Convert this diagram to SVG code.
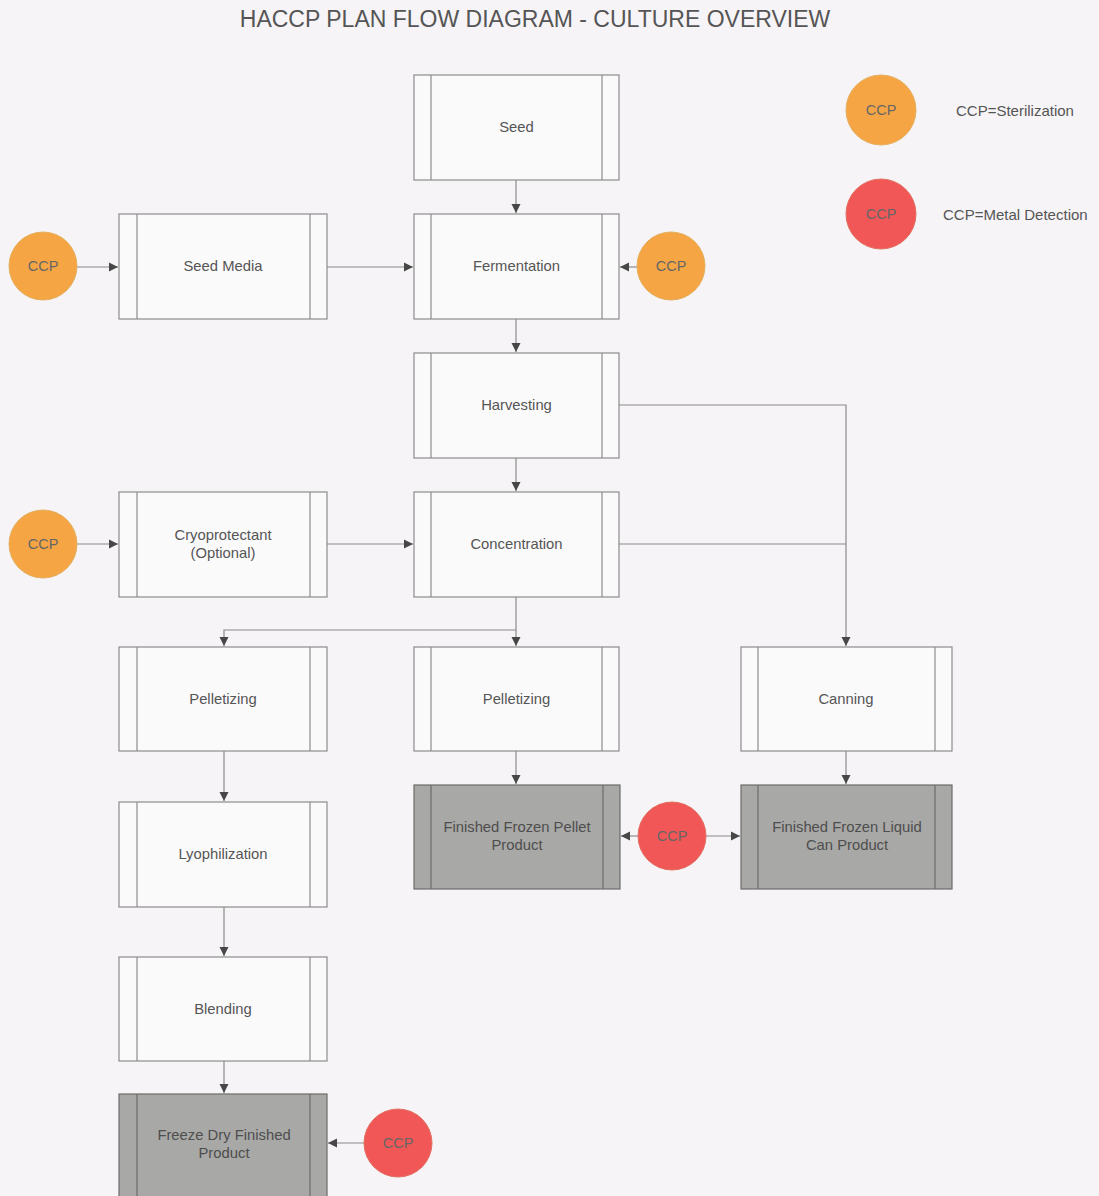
<svg xmlns="http://www.w3.org/2000/svg" width="1099" height="1196" viewBox="0 0 1099 1196">
<style>
.bg{fill:#f6f4f6}
.box rect.o{fill:#fbfafb;stroke:#8c8c8c;stroke-width:1.2}
.box line{stroke:#8c8c8c;stroke-width:1.2}
.fin rect.o{fill:#a8a8a6;stroke:#6c6c6c;stroke-width:1.2}
.fin line{stroke:#6c6c6c;stroke-width:1.2}
.t{font-family:"Liberation Sans",Arial,sans-serif;font-size:14.8px;fill:#555;text-anchor:middle}
.ft{font-family:"Liberation Sans",Arial,sans-serif;font-size:14.8px;fill:#4e4e4e;text-anchor:middle}
.or{fill:#f5a544;stroke:#e3b060;stroke-width:1}
.rd{fill:#f25757;stroke:#e07060;stroke-width:1}
.ct{font-family:"Liberation Sans",Arial,sans-serif;font-size:14.5px;fill:#666;text-anchor:middle}
.lg{font-family:"Liberation Sans",Arial,sans-serif;font-size:15px;fill:#555}
.c{stroke:#8a8a8a;stroke-width:1.2;fill:none}
</style>
<defs>
<marker id="ah" markerWidth="10" markerHeight="10" refX="9" refY="5" orient="auto" markerUnits="userSpaceOnUse">
<path d="M0,0.5 L9,5 L0,9.5 Z" fill="#474747"/>
</marker>
</defs>
<rect class="bg" x="0" y="0" width="1099" height="1196"/>
<text x="535" y="27" font-family="Liberation Sans, Arial, sans-serif" font-size="23" fill="#555" text-anchor="middle">HACCP PLAN FLOW DIAGRAM - CULTURE OVERVIEW</text>

<g id="connectors">
<path class="c" d="M516,180 V213" marker-end="url(#ah)"/>
<path class="c" d="M77,267 H118" marker-end="url(#ah)"/>
<path class="c" d="M327,267 H413" marker-end="url(#ah)"/>
<path class="c" d="M637,267 H620" marker-end="url(#ah)"/>
<path class="c" d="M516,319 V352" marker-end="url(#ah)"/>
<path class="c" d="M619,405 H846 V646" marker-end="url(#ah)"/>
<path class="c" d="M516,458 V491" marker-end="url(#ah)"/>
<path class="c" d="M77,544 H118" marker-end="url(#ah)"/>
<path class="c" d="M327,544 H413" marker-end="url(#ah)"/>
<path class="c" d="M619,544 H846"/>
<path class="c" d="M516,597 V646" marker-end="url(#ah)"/>
<path class="c" d="M516,630 H224 V646" marker-end="url(#ah)"/>
<path class="c" d="M224,751 V801" marker-end="url(#ah)"/>
<path class="c" d="M224,907 V956" marker-end="url(#ah)"/>
<path class="c" d="M224,1061 V1093" marker-end="url(#ah)"/>
<path class="c" d="M364,1143 H328" marker-end="url(#ah)"/>
<path class="c" d="M516,751 V784" marker-end="url(#ah)"/>
<path class="c" d="M846,751 V784" marker-end="url(#ah)"/>
<path class="c" d="M638,836 H621" marker-end="url(#ah)"/>
<path class="c" d="M706,836 H740" marker-end="url(#ah)"/>
</g>

<g id="seed" class="box"><rect class="o" x="414" y="75" width="205" height="105"/><line x1="431" y1="75" x2="431" y2="180"/><line x1="602" y1="75" x2="602" y2="180"/><text class="t" x="516.5" y="132">Seed</text></g>
<g id="seed-media" class="box"><rect class="o" x="119" y="214" width="208" height="105"/><line x1="137" y1="214" x2="137" y2="319"/><line x1="310" y1="214" x2="310" y2="319"/><text class="t" x="223" y="271">Seed Media</text></g>
<g id="fermentation" class="box"><rect class="o" x="414" y="214" width="205" height="105"/><line x1="431" y1="214" x2="431" y2="319"/><line x1="602" y1="214" x2="602" y2="319"/><text class="t" x="516.5" y="271">Fermentation</text></g>
<g id="harvesting" class="box"><rect class="o" x="414" y="353" width="205" height="105"/><line x1="431" y1="353" x2="431" y2="458"/><line x1="602" y1="353" x2="602" y2="458"/><text class="t" x="516.5" y="410">Harvesting</text></g>
<g id="cryoprotectant" class="box"><rect class="o" x="119" y="492" width="208" height="105"/><line x1="137" y1="492" x2="137" y2="597"/><line x1="310" y1="492" x2="310" y2="597"/><text class="t" x="223" y="540">Cryoprotectant</text><text class="t" x="223" y="558">(Optional)</text></g>
<g id="concentration" class="box"><rect class="o" x="414" y="492" width="205" height="105"/><line x1="431" y1="492" x2="431" y2="597"/><line x1="602" y1="492" x2="602" y2="597"/><text class="t" x="516.5" y="549">Concentration</text></g>
<g id="pelletizing-left" class="box"><rect class="o" x="119" y="647" width="208" height="104"/><line x1="137" y1="647" x2="137" y2="751"/><line x1="310" y1="647" x2="310" y2="751"/><text class="t" x="223" y="704">Pelletizing</text></g>
<g id="pelletizing-mid" class="box"><rect class="o" x="414" y="647" width="205" height="104"/><line x1="431" y1="647" x2="431" y2="751"/><line x1="602" y1="647" x2="602" y2="751"/><text class="t" x="516.5" y="704">Pelletizing</text></g>
<g id="canning" class="box"><rect class="o" x="741" y="647" width="211" height="104"/><line x1="758" y1="647" x2="758" y2="751"/><line x1="935" y1="647" x2="935" y2="751"/><text class="t" x="846" y="704">Canning</text></g>
<g id="lyophilization" class="box"><rect class="o" x="119" y="802" width="208" height="105"/><line x1="137" y1="802" x2="137" y2="907"/><line x1="310" y1="802" x2="310" y2="907"/><text class="t" x="223" y="859">Lyophilization</text></g>
<g id="blending" class="box"><rect class="o" x="119" y="957" width="208" height="104"/><line x1="137" y1="957" x2="137" y2="1061"/><line x1="310" y1="957" x2="310" y2="1061"/><text class="t" x="223" y="1014">Blending</text></g>
<g id="pellet-product" class="fin"><rect class="o" x="414" y="785" width="206" height="104"/><line x1="431" y1="785" x2="431" y2="889"/><line x1="603" y1="785" x2="603" y2="889"/><text class="ft" x="517" y="832">Finished Frozen Pellet</text><text class="ft" x="517" y="850">Product</text></g>
<g id="liquid-product" class="fin"><rect class="o" x="741" y="785" width="211" height="104"/><line x1="758" y1="785" x2="758" y2="889"/><line x1="935" y1="785" x2="935" y2="889"/><text class="ft" x="847" y="832">Finished Frozen Liquid</text><text class="ft" x="847" y="850">Can Product</text></g>
<g id="freeze-dry-product" class="fin"><rect class="o" x="119" y="1094" width="208" height="106"/><line x1="137" y1="1094" x2="137" y2="1200"/><line x1="310" y1="1094" x2="310" y2="1200"/><text class="ft" x="224" y="1140">Freeze Dry Finished</text><text class="ft" x="224" y="1158">Product</text></g>

<g id="ccp-seed-media"><circle class="or" cx="43" cy="266" r="34"/><text class="ct" x="43" y="271">CCP</text></g>
<g id="ccp-fermentation"><circle class="or" cx="671" cy="266" r="34"/><text class="ct" x="671" y="271">CCP</text></g>
<g id="ccp-cryo"><circle class="or" cx="43" cy="544" r="34"/><text class="ct" x="43" y="549">CCP</text></g>
<g id="ccp-metal-pellet"><circle class="rd" cx="672" cy="836" r="34"/><text class="ct" x="672" y="841">CCP</text></g>
<g id="ccp-metal-freeze"><circle class="rd" cx="398" cy="1143" r="34"/><text class="ct" x="398" y="1148">CCP</text></g>

<g id="legend-sterilization"><circle class="or" cx="881" cy="110" r="35"/><text class="ct" x="881" y="115">CCP</text><text class="lg" x="956" y="116">CCP=Sterilization</text></g>
<g id="legend-metal"><circle class="rd" cx="881" cy="214" r="35"/><text class="ct" x="881" y="219">CCP</text><text class="lg" x="943" y="220">CCP=Metal Detection</text></g>
</svg>
